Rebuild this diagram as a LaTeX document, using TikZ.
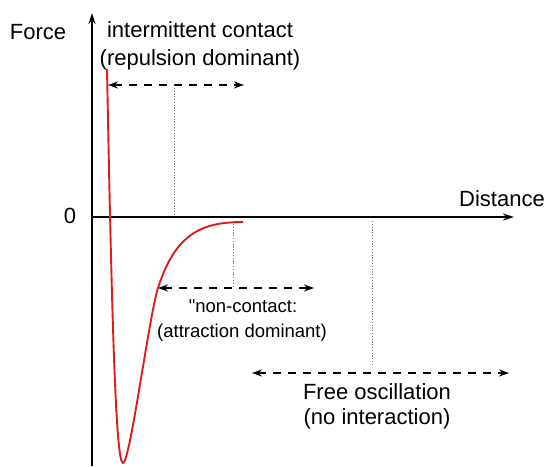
\documentclass[tikz,border=0pt]{standalone}
\usepackage{fontspec}
\setmainfont{Liberation Sans}
\usetikzlibrary{arrows.meta}

\definecolor{curvered}{RGB}{222,28,28}
\definecolor{guidegray}{RGB}{125,125,125}

% straight double quote, set as a glyph so the TeX quote mapping leaves it alone
\newcommand{\straightdq}{\XeTeXglyph\XeTeXglyphindex "quotedbl"\relax}

\tikzset{
  axisline/.style={line width=1.8pt, -{Stealth[length=11pt,width=7pt]}},
  spanarrow/.style={line width=1.7pt, dash pattern=on 8pt off 7pt,
    {Stealth[length=10pt,width=7pt]}-{Stealth[length=10pt,width=7pt]}},
  guideline/.style={guidegray, line width=0.8pt, dash pattern=on 1.2pt off 1.6pt},
  forcecurve/.style={curvered, line width=1.9pt},
  bigtxt/.style={anchor=base, inner sep=0pt, font=\fontsize{22}{26}\selectfont},
  smalltxt/.style={anchor=base, inner sep=0pt, font=\fontsize{18.5}{22}\selectfont},
}

\begin{document}
\begin{tikzpicture}[x=1pt, y=-1pt]
  \useasboundingbox (0,0) rectangle (546,466);

  % axes
  \coordinate (origin) at (92,217);
  \coordinate (ybottom) at (92,466);
  \coordinate (ytop) at (92,13);
  \coordinate (xend) at (514,217);
  \draw[axisline] (ybottom) -- (ytop);
  \draw[axisline] (origin) -- (xend);

  \node[bigtxt] (forcelbl) at (38,39) {Force};
  \node[bigtxt] (zerolbl) at (70,223) {0};
  \node[bigtxt] (distlbl) at (502,206) {Distance};

  % force-distance curve
  \coordinate (ctop) at (107,69);
  \coordinate (cmin) at (123,463);
  \coordinate (cmid) at (158,288);
  \coordinate (cend) at (243,222);
  \draw[forcecurve] (ctop) .. controls (112,330) and (116,463) .. (cmin)
    .. controls (130,463) and (149,316) .. (cmid)
    .. controls (175,235) and (200,222) .. (cend);

  % intermittent contact span
  \coordinate (ra) at (108,85);
  \coordinate (rb) at (244,85);
  \coordinate (rguide) at (174,85);
  \coordinate (rguideend) at (174,216);
  \draw[spanarrow] (ra) -- (rb);
  \draw[guideline] (rguide) -- (rguideend);
  \node[bigtxt] (ictxt1) at (200,37) {intermittent contact};
  \node[bigtxt] (ictxt2) at (200,65) {(repulsion dominant)};

  % non-contact span
  \coordinate (na) at (158,288);
  \coordinate (nb) at (314,288);
  \coordinate (nguide) at (233,224);
  \coordinate (nguideend) at (233,287);
  \draw[spanarrow] (na) -- (nb);
  \draw[guideline] (nguide) -- (nguideend);
  \node[smalltxt] (nctxt1) at (243,312) {\straightdq non-contact:};
  \node[smalltxt] (nctxt2) at (242,337) {(attraction dominant)};

  % free oscillation span
  \coordinate (fa) at (252,373);
  \coordinate (fb) at (509,373);
  \coordinate (fguide) at (372,221);
  \coordinate (fguideend) at (372,365);
  \draw[spanarrow] (fa) -- (fb);
  \draw[guideline] (fguide) -- (fguideend);
  \node[bigtxt] (fotxt1) at (377,399) {Free oscillation};
  \node[bigtxt] (fotxt2) at (377,424) {(no interaction)};
\end{tikzpicture}
\end{document}
